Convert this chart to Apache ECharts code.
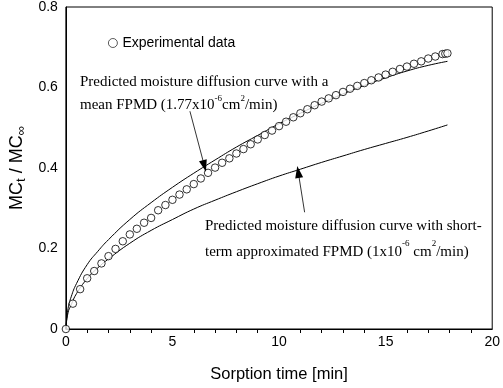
<!DOCTYPE html>
<html>
<head>
<meta charset="utf-8">
<script src="https://cdn.jsdelivr.net/npm/echarts@6/dist/echarts.min.js"></script>
<style>
  html, body { margin: 0; padding: 0; background: #fff; }
  #chart { width: 503px; height: 388px; }
</style>
</head>
<body>
<div id="chart"></div>
<script>
// experimental data (every 20 s)
var expTime = [0, 0.33, 0.67, 1.0, 1.33, 1.67, 2.0, 2.33, 2.67, 3.0, 3.33, 3.67, 4.0, 4.33, 4.67,
  5.0, 5.33, 5.67, 6.0, 6.33, 6.67, 7.0, 7.33, 7.67, 8.0, 8.33, 8.67, 9.0, 9.33, 9.67,
  10.0, 10.33, 10.67, 11.0, 11.33, 11.67, 12.0, 12.33, 12.67, 13.0, 13.33, 13.67, 14.0, 14.33, 14.67,
  15.0, 15.33, 15.67, 16.0, 16.33, 16.67, 17.0, 17.33, 17.67, 17.8, 17.9];
var expMC = [0, 0.063, 0.099, 0.126, 0.144, 0.163, 0.181, 0.199, 0.218, 0.235, 0.249, 0.264, 0.276, 0.295, 0.308,
  0.321, 0.334, 0.347, 0.360, 0.374, 0.388, 0.401, 0.413, 0.424, 0.436, 0.447, 0.459, 0.471, 0.482, 0.493,
  0.504, 0.515, 0.526, 0.536, 0.546, 0.556, 0.565, 0.573, 0.581, 0.589, 0.597, 0.604, 0.611, 0.618, 0.625,
  0.632, 0.639, 0.646, 0.652, 0.659, 0.665, 0.672, 0.677, 0.683, 0.684, 0.685];

// predicted curves
var curveTime = [0, 0.1, 0.25, 0.5, 1, 1.5, 2, 3, 4, 5, 6, 7, 8, 9, 10, 11, 12, 13, 14, 15, 16, 17, 17.9];
var meanMC = [0, 0.05, 0.08, 0.113, 0.16, 0.193, 0.222, 0.272, 0.314, 0.352, 0.387, 0.42, 0.452, 0.481,
  0.51, 0.536, 0.561, 0.584, 0.605, 0.624, 0.641, 0.655, 0.665];
var shortMC = [0, 0.04, 0.06, 0.088, 0.125, 0.152, 0.174, 0.213, 0.245, 0.272, 0.298, 0.32, 0.341, 0.361,
  0.38, 0.397, 0.414, 0.43, 0.446, 0.461, 0.476, 0.492, 0.507];

var xTicks = [0, 5, 10, 15, 20];
var yTicks = [0, 0.2, 0.4, 0.6, 0.8];

function zip(a, b) {
  return a.map(function (v, i) { return [v, b[i]]; });
}

var chart = echarts.init(document.getElementById("chart"));
var serif = "Liberation Serif";
var sans = "Liberation Sans";

var supStyle = { fontFamily: serif, fontSize: 9, color: "#000", verticalAlign: "top", lineHeight: 13 };

var option = {
  animation: false,
  grid: {
    left: 61, right: 9, top: 7, bottom: 53,
    show: true, borderColor: "#000", borderWidth: 1
  },
  legend: {
    left: 103, top: 31,
    itemWidth: 9, itemHeight: 9, itemGap: 5,
    data: [{ name: "Experimental data", icon: "circle" }],
    itemStyle: { color: "#fff", borderColor: "#000", borderWidth: 0.8 },
    textStyle: { fontFamily: sans, fontSize: 14, color: "#000" }
  },
  xAxis: {
    type: "value",
    min: xTicks[0], max: xTicks[xTicks.length - 1], interval: 5,
    name: "Sorption time [min]",
    nameLocation: "middle", nameGap: 37,
    nameTextStyle: { fontFamily: sans, fontSize: 16.5, color: "#000" },
    axisLine: { lineStyle: { color: "#000", width: 1 } },
    axisTick: { show: false },
    minorTick: { show: true, splitNumber: 5, length: 4, lineStyle: { color: "#000" } },
    axisLabel: { fontFamily: sans, fontSize: 14, color: "#000", margin: 6 },
    splitLine: { show: false }
  },
  yAxis: {
    type: "value",
    min: yTicks[0], max: yTicks[yTicks.length - 1], interval: 0.2,
    name: "{n|MC}{s|t}{n| / MC}{s|\u221e}",
    nameLocation: "middle", nameGap: 30, nameRotate: 90,
    nameTextStyle: {
      fontFamily: sans, color: "#000",
      rich: {
        n: { fontFamily: sans, fontSize: 18, color: "#000" },
        s: { fontFamily: sans, fontSize: 13, color: "#000", padding: [8, 0, 0, 0] }
      }
    },
    axisLine: { lineStyle: { color: "#000", width: 1 } },
    axisTick: { show: false },
    axisLabel: { fontFamily: sans, fontSize: 14, color: "#000", margin: 8 },
    splitLine: { show: false }
  },
  series: [
    {
      name: "Experimental data",
      type: "scatter",
      symbol: "circle",
      symbolSize: 7.5,
      itemStyle: { color: "#fff", borderColor: "#000", borderWidth: 1 },
      data: zip(expTime, expMC),
      z: 3
    },
    {
      name: "Mean FPMD",
      type: "line",
      smooth: true,
      showSymbol: false,
      lineStyle: { color: "#000", width: 1 },
      data: zip(curveTime, meanMC),
      markLine: {
        silent: true,
        symbol: ["none", "triangle"],
        symbolSize: [8, 12],
        label: { show: false },
        lineStyle: { color: "#000", width: 0.8, type: "solid" },
        data: [
          [{ coord: [5.82, 0.541] }, { coord: [6.5, 0.405] }]
        ]
      }
    },
    {
      name: "Short-term FPMD",
      type: "line",
      smooth: true,
      showSymbol: false,
      lineStyle: { color: "#000", width: 1 },
      data: zip(curveTime, shortMC),
      markLine: {
        silent: true,
        symbol: ["none", "triangle"],
        symbolSize: [8, 12],
        label: { show: false },
        lineStyle: { color: "#000", width: 0.8, type: "solid" },
        data: [
          [{ coord: [11.2, 0.29] }, { coord: [10.9, 0.39] }]
        ]
      }
    }
  ],
  graphic: [
    {
      type: "text", left: 80, top: 75,
      style: {
        text: "{t|Predicted moisture diffusion curve with a}\n{t|mean FPMD (1.77x10}{sup|-6}{t|cm}{sup|2}{t|/min)}",
        rich: {
          t: { fontFamily: serif, fontSize: 15, color: "#000", lineHeight: 23 },
          sup: supStyle
        }
      }
    },
    {
      type: "text", left: 205, top: 219,
      style: {
        text: "{t|Predicted moisture diffusion curve with short-}\n{t|term approximated FPMD (1x10}{sup|-6}{t| cm}{sup|2}{t|/min)}",
        rich: {
          t: { fontFamily: serif, fontSize: 15, color: "#000", lineHeight: 26 },
          sup: supStyle
        }
      }
    }
  ]
};
chart.setOption(option);
</script>
</body>
</html>
